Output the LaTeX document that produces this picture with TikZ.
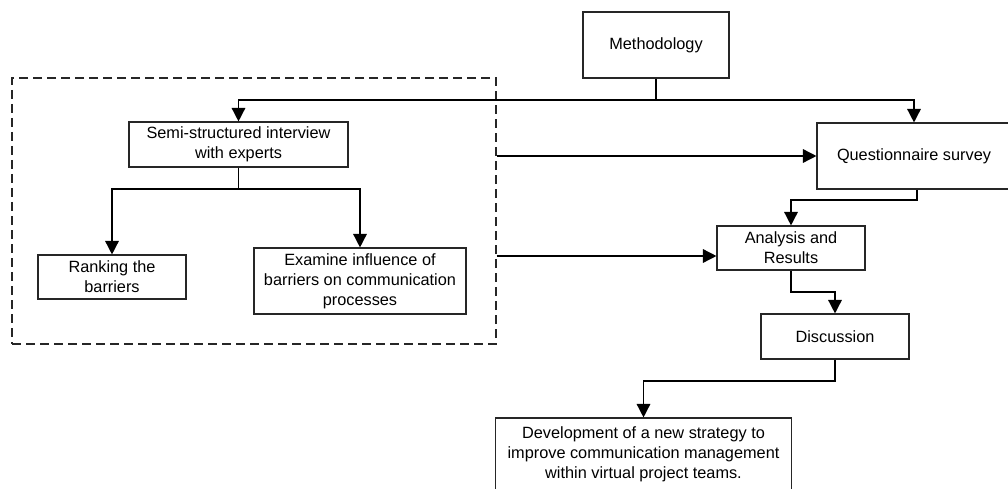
\documentclass[tikz,border=0pt]{standalone}
\usepackage{fontspec}
\setmainfont{Liberation Sans}
\usetikzlibrary{arrows.meta}
\begin{document}
\begin{tikzpicture}[x=1pt,y=-1pt,
  box/.style={draw=black!85, line width=1.1pt, fill=white, align=center, inner sep=0pt,
    font=\fontsize{16.3}{20}\selectfont},
  conn/.style={line width=1.5pt, black},
  arr/.style={conn, -{Triangle[length=13.5pt,width=13.5pt]}},
  grpbox/.style={draw=black!85, line width=1.1pt, dash pattern=on 9pt off 5pt, inner sep=0pt}
]
\useasboundingbox (0,0) rectangle (1008,489);
\begin{scope}
\clip (0,0) rectangle (1008,489);
\node[grpbox, minimum width=484pt, minimum height=266pt] (grp) at (254,211) {};
\node[box, minimum width=146pt, minimum height=66pt] (meth) at (656,45) {Methodology};
\node[box, minimum width=194pt, minimum height=66pt] (quest) at (914,156) {Questionnaire survey};
\node[box, minimum width=219pt, minimum height=45pt] (semi) at (238.5,144.5) {Semi-structured interview\\with experts};
\node[box, minimum width=148pt, minimum height=44pt] (rank) at (112,277) {Ranking the\\barriers};
\node[box, minimum width=212pt, minimum height=66pt] (exam) at (360,281) {Examine influence of\\barriers on communication\\processes};
\node[box, minimum width=148pt, minimum height=44pt] (anal) at (791,248) {Analysis and\\Results};
\node[box, minimum width=148pt, minimum height=45pt] (disc) at (835,336.5) {Discussion};
\node[box, minimum width=296pt, minimum height=72pt] (dev) at (643.5,454) {Development of a new strategy to\\improve communication management\\within virtual project teams.};

\coordinate (j1) at (656,100);
\coordinate (j2) at (238.5,189);
\coordinate (q1) at (917,200);
\coordinate (a1) at (0,256);
\coordinate (j3) at (791,292);
\coordinate (j4) at (835,381);

\draw[conn] (meth.south) -- (j1);
\draw[arr] (j1) -| (semi.north);
\draw[arr] (j1) -| (quest.north);
\draw[conn] (semi.south) -- (j2);
\draw[arr] (j2) -| (rank.north);
\draw[arr] (j2) -| (exam.north);
\draw[arr] (grp.east |- quest.west) -- (quest.west);
\draw[arr] (grp.east |- a1) -- (anal.west |- a1);
\draw[arr] (q1 |- quest.south) -- (q1) -| (anal.north);
\draw[arr] (anal.south) -- (j3) -| (disc.north);
\draw[arr] (disc.south) -- (j4) -| (dev.north);
\end{scope}
\end{tikzpicture}
\end{document}
